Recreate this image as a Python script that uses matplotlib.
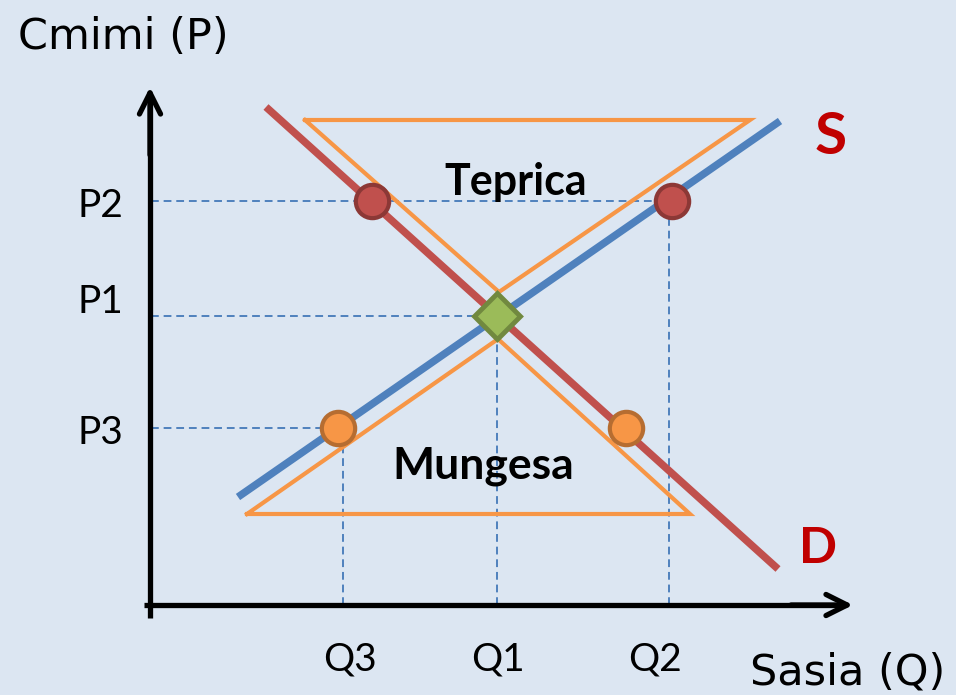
import matplotlib
matplotlib.use('Agg')

import numpy as np
import matplotlib.pyplot as plt

# Supply / demand diagram with surplus (Teprica) and shortage (Mungesa)
# Units: arbitrary, origin of the axes at (0,0)

# price and quantity levels
pNames = ["P2", "P1", "P3"]
pValues = [40.4, 28.9, 17.7]
qNames = ["Q3", "Q1", "Q2"]
qValues = [19.2, 34.6, 51.8]

# curves (endpoints)
supplyQ = [8.7, 62.9]
supplyP = [10.8, 48.4]
demandQ = [11.5, 62.7]
demandP = [49.8, 3.6]

# surplus triangle (top) and shortage triangle (bottom)
surplusQ = [15.4, 59.9, 34.8, 15.4]
surplusP = [48.5, 48.5, 31.3, 48.5]
shortageQ = [9.6, 53.9, 34.7, 9.6]
shortageP = [9.1, 9.1, 26.6, 9.1]

# points
highQ = [22.1, 52.1]   # at P2
highP = [40.4, 40.4]
lowQ = [18.7, 47.5]    # at P3
lowP = [17.7, 17.7]
eqQ = [34.6]
eqP = [28.9]

bg = '#DCE6F2'
blue = '#4F81BD'
red = '#C0504D'
orange = '#F79646'

fig = plt.figure(figsize=(9.56, 6.95), dpi=100, facecolor=bg)
ax = fig.add_axes([0, 0, 1, 1])
ax.set_facecolor(bg)
ax.set_xlim(-15.1, 80.5)
ax.set_ylim(-9.0, 60.5)
ax.axis('off')

# dashed guides
dashKw = dict(color=blue, lw=1.4, ls=(0, (4, 2.5)), zorder=1)
guideQ = [highQ[1], eqQ[0], lowQ[0]]
for p, qEnd in zip(pValues, guideQ):
    ax.plot([0, qEnd], [p, p], **dashKw)
guideP = [lowP[0], eqP[0], highP[1]]
for q, pEnd in zip(qValues, guideP):
    ax.plot([q, q], [0, pEnd], **dashKw)

# axes with arrows
ax.plot([-0.1, -0.1], [-1.3, 51.0], color='black', lw=3.8, solid_capstyle='butt', zorder=5)
ax.plot([-0.7, 69.5], [0, 0], color='black', lw=3.8, solid_capstyle='butt', zorder=5)
arrowKw = dict(arrowstyle='->, head_length=0.4, head_width=0.2', lw=3.8, color='black',
               mutation_scale=38, shrinkA=0, shrinkB=0)
ax.annotate('', xy=(-0.1, 51.8), xytext=(-0.1, 45), arrowprops=arrowKw, zorder=5)
ax.annotate('', xy=(70.2, 0), xytext=(64, 0), arrowprops=arrowKw, zorder=5)

# triangles
ax.plot(surplusQ, surplusP, color=orange, lw=3.0, solid_joinstyle='miter', zorder=2)
ax.plot(shortageQ, shortageP, color=orange, lw=3.0, solid_joinstyle='miter', zorder=2)

# curves
ax.plot(demandQ, demandP, color=red, lw=5.4, solid_capstyle='butt', zorder=3)
ax.plot(supplyQ, supplyP, color=blue, lw=5.4, solid_capstyle='butt', zorder=3)

# points
ax.plot(highQ, highP, 'o', ms=24, mfc=red, mec='#8C3836', mew=3, zorder=6)
ax.plot(lowQ, lowP, 'o', ms=24, mfc=orange, mec='#B66D31', mew=3, zorder=6)
ax.plot(eqQ, eqP, 'D', ms=23, mfc='#9BBB59', mec='#71893F', mew=3.5, zorder=7)

# labels
font = 'Lato'
for name, p, yText in zip(pNames, pValues, [38.8, 29.2, 16.1]):
    ax.text(-5.1, yText, name, ha='center', va='baseline', fontsize=28, family=font)
for name, q in zip(qNames, [19.9, 34.7, 50.4]):
    ax.text(q, -6.5, name, ha='center', va='baseline', fontsize=28, family=font)

ax.text(36.5, 41.0, "Teprica", ha='center', va='baseline', fontsize=31, fontweight='bold', family=font)
ax.text(33.2, 12.6, "Mungesa", ha='center', va='baseline', fontsize=32, fontweight='bold', family=font)
ax.text(68.0, 45.1, "S", ha='center', va='baseline', fontsize=42, fontweight='bold', color='#C00000', family=font)
ax.text(66.7, 4.2, "D", ha='center', va='baseline', fontsize=36, fontweight='bold', color='#C00000', family=font)

ax.text(-13.3, 55.6, "Cmimi (P)", ha='left', va='baseline', fontsize=31, family='DejaVu Sans')
ax.text(59.9, -7.9, "Sasia (Q)", ha='left', va='baseline', fontsize=31, family='DejaVu Sans')

fig.savefig("out.png", dpi=100, facecolor=bg)
